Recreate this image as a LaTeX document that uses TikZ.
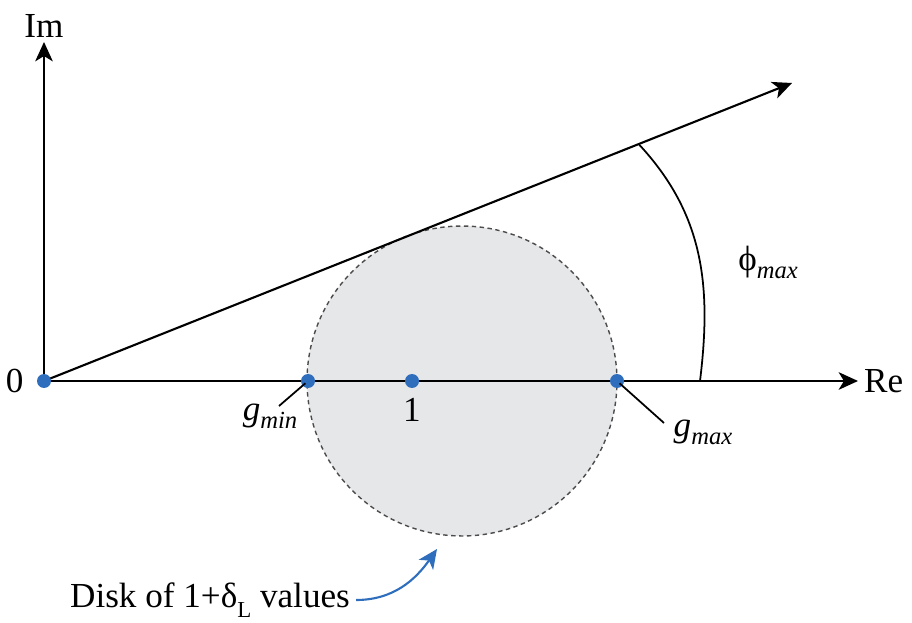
\documentclass[tikz,border=0pt]{standalone}
\usepackage{fontspec}
\setmainfont{Liberation Serif}
\usepackage{xcolor}
\usetikzlibrary{positioning, arrows.meta, calc}
\definecolor{dotblue}{HTML}{2F6EBD}
\definecolor{diskgray}{HTML}{E6E7E9}
\newcommand{\lowsub}[1]{\raisebox{-0.5ex}{\fontsize{14}{14}\selectfont\itshape #1}}
\tikzset{
    dot/.style={circle, fill=dotblue, inner sep=0pt, minimum size=0.28cm},
    leader/.style={line width=1pt, shorten <=2pt},
    axis/.style={line width=1.2pt, -{Stealth[length=11pt, width=10pt, inset=3pt]}},
}

\begin{document}
\begin{tikzpicture}[x=0.02cm, y=0.02cm, font=\rmfamily\fontsize{20}{23}\selectfont]
    \useasboundingbox (0,0) rectangle (912,622);
    % the disk
    \fill[diskgray] (462,241) circle (3.1cm);
    \draw[gray!60!black, line width=0.8pt, dash pattern=on 2.5pt off 2pt] (462,241) circle (3.1cm);

    \coordinate (reend) at (858,241);
    \coordinate (imend) at (44,580);
    \coordinate (rayend) at (792,539);
    \coordinate (arcstart) at ($(44,241)!0.795!(rayend)$);
    \coordinate (arcend) at (700,241);

    \draw[axis] (44,241) -- (reend);
    \draw[axis] (44,241) -- (imend);
    \draw[axis] (44,241) -- (rayend);
    \draw[line width=1pt] (arcstart) to[out=-47, in=83] (arcend);

    \node[dot] (origin) at (44,241) {};
    \node[dot] (gmin) at (308,241) {};
    \node[dot] (one) at (412,241) {};
    \node[dot] (gmax) at (617,241) {};

    \node (zero) [left=4pt of origin] {0};
    \node (im) [above=-1pt of imend] {Im};
    \node (re) [right=0pt of reend] {Re};
    \node (onelabel) [below=2pt of one] {1};
    \node (gminlabel) at (270,206) {\textit{g}\lowsub{min}};
    \node (gmaxlabel) at (703,190) {\textit{g}\lowsub{max}};
    \node (phimax) at (768,360) {ϕ\lowsub{max}};
    \node (disk) at (210,22) {Disk of 1+δ\raisebox{-0.6ex}{\fontsize{13}{13}\selectfont L} values};

    \draw[leader] (gmin.center) -- (279,216);
    \draw[leader] (gmax.center) -- (664,199);
    \draw[dotblue, line width=1.2pt, -{Stealth[length=11pt, width=10pt, inset=3pt]}] (disk.east) to[out=0, in=-125] (437,73);
\end{tikzpicture}
\end{document}
